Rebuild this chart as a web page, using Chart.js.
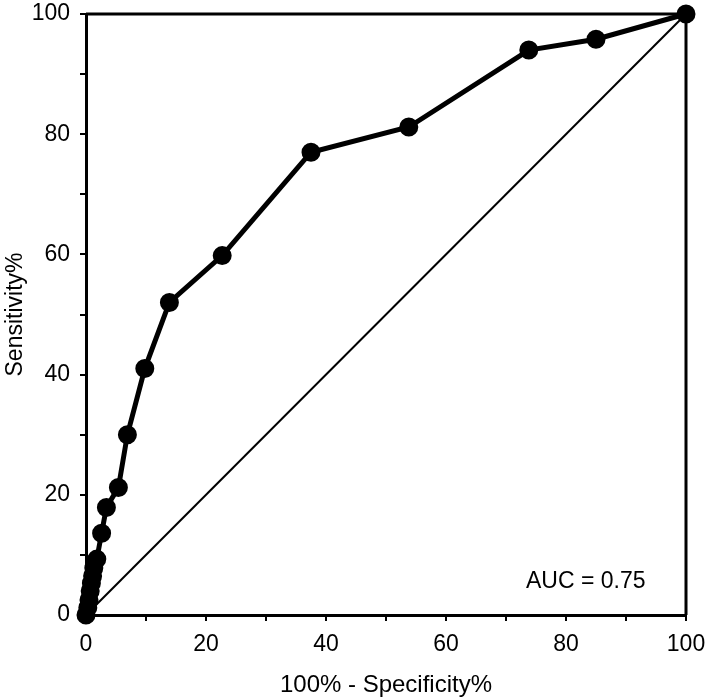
<!DOCTYPE html>
<html>
<head>
<meta charset="utf-8">
<script src="https://cdn.jsdelivr.net/npm/chart.js"></script>
<style>
  html, body { margin: 0; padding: 0; background: #fff; }
  #wrap { width: 709px; height: 700px; }
</style>
</head>
<body>
<div id="wrap"><canvas id="roc" width="709" height="700"></canvas></div>
<script>
// ROC curve values
const fpr = [0, 0.3, 0.5, 0.7, 0.9, 1.1, 1.3, 1.8, 2.6, 3.4, 5.4, 6.9, 9.8, 13.9, 22.7, 37.5, 53.8, 73.8, 85, 100];
const sens = [0, 1.2, 2.5, 4.0, 5.3, 6.5, 7.8, 9.3, 13.6, 17.9, 21.2, 30, 41, 52, 59.8, 77, 81.2, 94, 95.8, 100];
const refX = [0, 100];
const refY = [0, 100];
const tickLabels = [0, 20, 40, 60, 80, 100];
const aucText = "AUC = 0.75";

const FONT = "'Liberation Sans', Arial, Helvetica, sans-serif";

// frame round the plot area + AUC note
const framePlugin = {
    id: "frame",
    afterDraw(chart) {
        const ctx = chart.ctx;
        const a = chart.chartArea;
        const xs = chart.scales.x, ys = chart.scales.y;
        ctx.save();
        ctx.strokeStyle = "#000";
        ctx.lineWidth = 3;
        ctx.beginPath();
        ctx.moveTo(a.left, a.top);
        ctx.lineTo(a.right, a.top);
        ctx.lineTo(a.right, a.bottom);
        ctx.stroke();
        ctx.fillStyle = "#000";
        ctx.font = "23px " + FONT;
        ctx.textAlign = "center";
        ctx.textBaseline = "middle";
        ctx.fillText(aucText, xs.getPixelForValue(83.3), ys.getPixelForValue(5.6));
        ctx.restore();
    }
};

const pts = fpr.map((x, i) => ({ x: x, y: sens[i] }));
const diag = refX.map((x, i) => ({ x: x, y: refY[i] }));

new Chart(document.getElementById("roc"), {
    type: "scatter",
    data: {
        datasets: [
            {
                data: pts,
                showLine: true,
                borderColor: "#000",
                backgroundColor: "#000",
                borderWidth: 5,
                pointRadius: 7,
                pointHoverRadius: 7,
                tension: 0
            },
            {
                data: diag,
                showLine: true,
                borderColor: "#000",
                borderWidth: 2,
                pointRadius: 0
            }
        ]
    },
    options: {
        responsive: false,
        animation: false,
        clip: false,
        layout: { autoPadding: false, padding: { top: 14, right: 23, left: 0, bottom: 0 } },
        plugins: { legend: { display: false }, tooltip: { enabled: false } },
        scales: {
            x: {
                type: "linear",
                min: 0,
                max: 100,
                afterFit: (s) => { s.height = 85; s.paddingLeft = 0; s.paddingRight = 0; },
                border: { display: true, color: "#000", width: 3 },
                grid: { display: true, drawOnChartArea: false, drawTicks: true, tickLength: 6, color: "#000", lineWidth: 2 },
                ticks: {
                    stepSize: 10,
                    padding: 10,
                    color: "#000",
                    font: { family: FONT, size: 23 },
                    callback: (v) => tickLabels.includes(v) ? String(v) : ""
                },
                title: {
                    display: true,
                    text: "100% - Specificity%",
                    color: "#000",
                    font: { family: FONT, size: 24 },
                    padding: { top: 4, bottom: 0 }
                }
            },
            y: {
                type: "linear",
                min: 0,
                max: 100,
                afterFit: (s) => { s.width = 86; s.paddingTop = 0; s.paddingBottom = 0; },
                border: { display: true, color: "#000", width: 3 },
                grid: { display: true, drawOnChartArea: false, drawTicks: true, tickLength: 6, color: "#000", lineWidth: 2 },
                ticks: {
                    stepSize: 10,
                    padding: 10,
                    color: "#000",
                    font: { family: FONT, size: 23 },
                    callback: (v) => tickLabels.includes(v) ? String(v) : ""
                },
                title: {
                    display: true,
                    text: "Sensitivity%",
                    color: "#000",
                    font: { family: FONT, size: 23 },
                    padding: { top: 2, bottom: 0 }
                }
            }
        }
    },
    plugins: [framePlugin]
});
</script>
</body>
</html>
